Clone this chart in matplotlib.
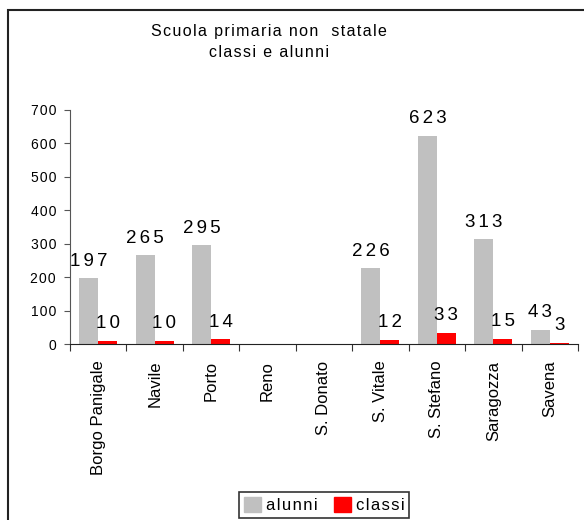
import matplotlib
matplotlib.use("Agg")
import matplotlib.pyplot as plt
import numpy as np
from matplotlib.patches import Rectangle, Patch

plt.rcParams['font.family'] = ['Liberation Sans', 'DejaVu Sans']

zone = ['Borgo Panigale', 'Navile', 'Porto', 'Reno', 'S. Donato',
        'S. Vitale', 'S. Stefano', 'Saragozza', 'Savena']
alunni = [197, 265, 295, 0, 0, 226, 623, 313, 43]
classi = [10, 10, 14, 0, 0, 12, 33, 15, 3]
y_ticks = [0, 100, 200, 300, 400, 500, 600, 700]


def spaced(s, sp='\u200a'):
    # widen letter spacing a little, like the old Excel rendering
    return sp.join(s)


W, H = 584, 520
fig = plt.figure(figsize=(W / 100, H / 100), dpi=100)

# outer chart frame (right and bottom sides fall outside the picture)
fig.patches.append(Rectangle((8 / W, -0.1), 1.2, 1.1 - 10 / H, transform=fig.transFigure,
                             fill=False, edgecolor='#222222', linewidth=1.5))

ax = fig.add_axes([70 / W, 176 / H, 508 / W, 234 / H])
x = np.arange(len(zone))
bw = 0.337
ax.bar(x - bw / 2, alunni, bw, color='#C0C0C0', label='alunni')
ax.bar(x + bw / 2, classi, bw, color='#FF0000', label='classi')

for i in range(len(zone)):
    if alunni[i] > 0:
        ax.annotate(spaced(str(alunni[i]), '\u2006'), (x[i] - bw / 2, alunni[i]), xytext=(0, 9),
                    textcoords='offset points', ha='center', va='baseline', fontsize=13.5)
    if classi[i] > 0:
        ax.annotate(spaced(str(classi[i]), '\u2006'), (x[i] + bw / 2, classi[i]), xytext=(0, 9),
                    textcoords='offset points', ha='center', va='baseline', fontsize=13.5)

ax.set_xlim(-0.5, len(zone) - 0.5)
ax.set_ylim(0, 700)
ax.set_yticks(y_ticks)
ax.set_yticklabels([spaced(str(v)) for v in y_ticks])
ax.tick_params(axis='y', labelsize=10, length=4, direction='out', color='#555555', pad=6)
ax.set_xticks(np.arange(-0.5, len(zone), 1.0))
ax.set_xticklabels([])
ax.set_xticks(x, minor=True)
ax.set_xticklabels(zone, minor=True, rotation=90, fontsize=12)
ax.tick_params(axis='x', which='major', length=5, direction='out', color='#333333')
ax.tick_params(axis='x', which='minor', length=0, pad=12)
for s in ['top', 'right']:
    ax.spines[s].set_visible(False)
ax.spines['left'].set_color('#555555')
ax.spines['bottom'].set_color('#222222')

title = spaced('Scuola primaria non  statale') + '\n' + spaced('classi e alunni')
fig.text(269 / W, 1 - 42 / H, title, ha='center', va='center', fontsize=11.5, linespacing=1.5)

handles = [Patch(color='#C0C0C0', label=spaced('alunni')),
           Patch(color='#FF0000', label=spaced('classi'))]
leg = fig.legend(handles=handles, loc='center', bbox_to_anchor=(324 / W, 1 - 505 / H),
                 ncol=2, fontsize=12, frameon=True, fancybox=False, edgecolor='black',
                 handlelength=1.0, handleheight=1.0, handletextpad=0.3, columnspacing=1.0,
                 borderpad=0.3)
leg.get_frame().set_linewidth(1.2)

fig.savefig('out.png', dpi=100)
